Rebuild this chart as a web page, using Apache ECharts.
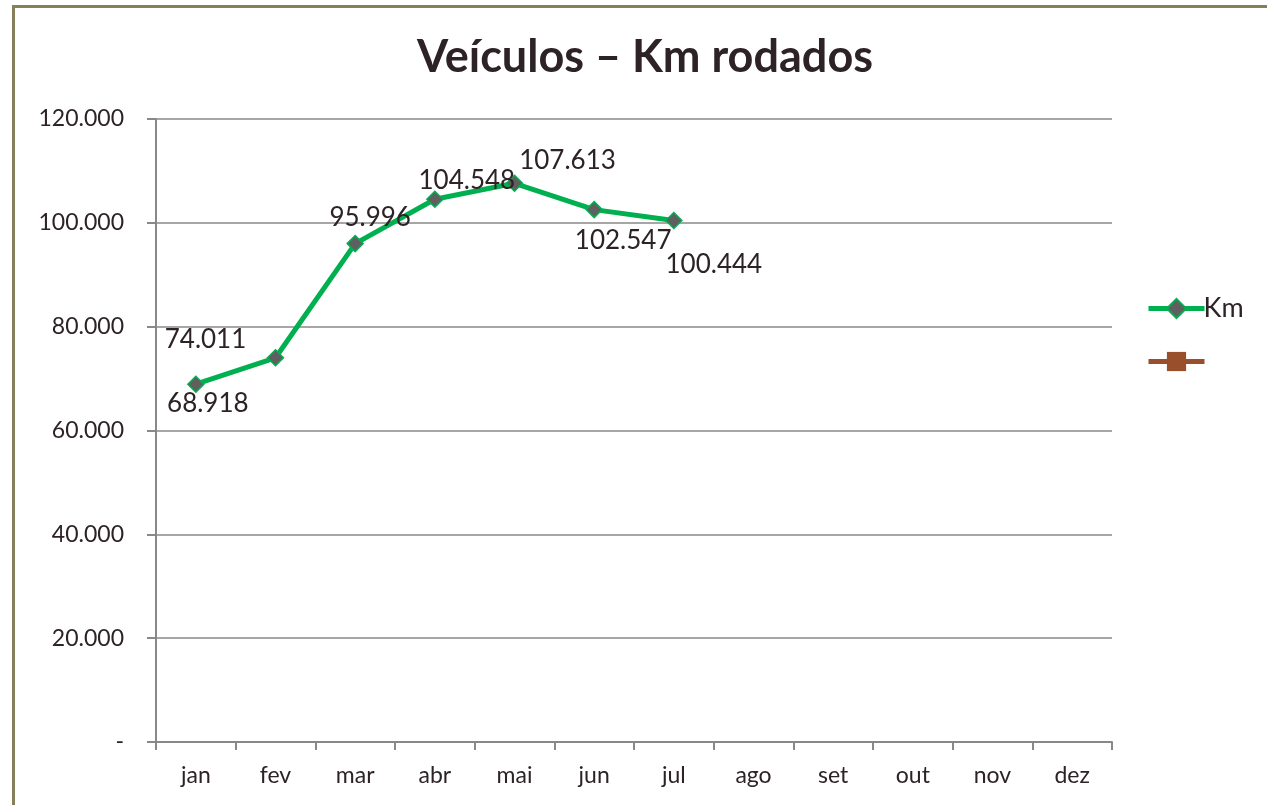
<!DOCTYPE html>
<html>
<head>
<meta charset="utf-8">
<script src="https://cdn.jsdelivr.net/npm/echarts@6/dist/echarts.min.js"></script>
<style>
html,body{margin:0;padding:0;background:#fff;}
#frame{position:absolute;left:12px;top:5px;width:1300px;height:900px;border-left:3px solid #857f5c;border-top:3px solid #857f5c;box-sizing:border-box;}
#chart{position:absolute;left:0;top:0;width:1267px;height:805px;}
</style>
</head>
<body>
<div id="frame"></div>
<div id="chart"></div>
<script>
const titleText = 'Veículos – Km rodados';
const categories = ['jan','fev','mar','abr','mai','jun','jul','ago','set','out','nov','dez'];
const kmValues = [68918, 74011, 95996, 104548, 107613, 102547, 100444];
const seriesNames = ['Km', ' '];
const yTicks = [0, 20000, 40000, 60000, 80000, 100000, 120000];

// label offsets (style) per point
const labelOffsets = [[12,19],[-70,-18],[15,-26],[32,-19],[53,-23],[29,31],[40,44]];

function fmt(v){
  if (v === 0) return '-';
  return v.toString().replace(/\B(?=(\d{3})+(?!\d))/g, '.');
}

const FONT = 'Lato, "Open Sans", sans-serif';
const TXT = '#2d2326';

const chart = echarts.init(document.getElementById('chart'), null, {renderer:'canvas'});
chart.setOption({
  animation:false,
  backgroundColor:'transparent',
  title:{text:titleText,left:412,top:30,
    textStyle:{fontFamily:FONT,fontSize:45,fontWeight:'bold',color:TXT}},
  grid:{left:156,right:155,top:119,bottom:63,containLabel:false},
  legend:{
    orient:'vertical',left:1141,top:290,itemGap:26,itemWidth:56,itemHeight:24,
    textStyle:{fontFamily:FONT,fontSize:27,color:TXT,padding:[0,0,0,-6]},
    data:[
      {name:seriesNames[0],lineStyle:{width:5,color:'#00b050'}},
      {name:seriesNames[1],lineStyle:{width:5,color:'#9a4f2c'}}
    ]
  },
  xAxis:{type:'category',data:categories,boundaryGap:true,
    axisLine:{lineStyle:{color:'#888',width:2}},
    axisTick:{show:true,length:8,lineStyle:{color:'#888',width:2}},
    axisLabel:{fontFamily:FONT,fontSize:23,color:TXT,margin:22}},
  yAxis:{type:'value',min:0,max:120000,interval:20000,
    axisLine:{show:true,lineStyle:{color:'#888',width:2}},
    axisTick:{show:true,length:9,inside:false,lineStyle:{color:'#888',width:2}},
    splitLine:{lineStyle:{color:'#888',width:1.5}},
    axisLabel:{fontFamily:FONT,fontSize:23,color:TXT,margin:32,formatter:fmt}},
  series:[
    {name:seriesNames[0],type:'line',
      data:kmValues.map((v,i)=>({value:v,label:{offset:labelOffsets[i]}})),
      symbol:'diamond',symbolSize:16,
      lineStyle:{color:'#00b050',width:5},
      itemStyle:{color:'#5f5f5f',borderColor:'#00b050',borderWidth:1.5},
      label:{show:true,position:'inside',fontFamily:FONT,fontSize:26,color:TXT,formatter:p=>fmt(p.value)},
      z:3
    },
    {name:seriesNames[1],type:'line',data:[],symbol:'rect',symbolSize:20,
      lineStyle:{color:'#9a4f2c',width:5},
      itemStyle:{color:'#9a4f2c'}}
  ]
});
</script>
</body>
</html>
